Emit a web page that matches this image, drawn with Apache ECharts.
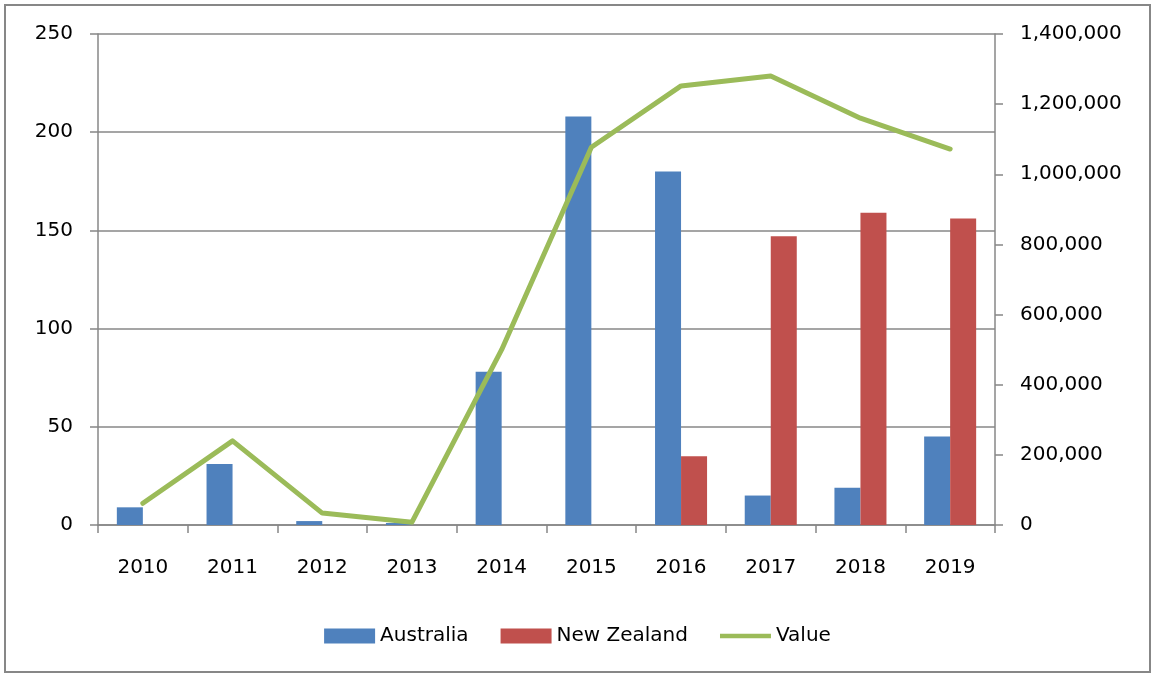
<!DOCTYPE html>
<html>
<head>
<meta charset="utf-8">
<script src="https://cdn.jsdelivr.net/npm/echarts@6/dist/echarts.min.js"></script>
<style>
html,body{margin:0;padding:0;background:#fff;}
#main{width:1155px;height:677px;}
</style>
</head>
<body>
<div id="main"></div>
<script>
// 年份
var years = ['2010', '2011', '2012', '2013', '2014', '2015', '2016', '2017', '2018', '2019'];
// 左轴柱子
var australia = [9, 31, 2, 1, 78, 208, 180, 15, 19, 45];
var newZealand = [0, 0, 0, 0, 0, 0, 35, 147, 159, 156];
// 右轴折线
var values = [62000, 240000, 34000, 8000, 500000, 1077000, 1252000, 1280000, 1160000, 1072000];

var fontName = 'DejaVu Sans';
var gridColor = '#878787';
// 图例里的线条图标（上下加两个极小的点撑开包围盒，线条保持在中间）
var lineIcon = 'path://M0,0 L0.01,0 L0.01,0.01 Z M0,5.3 L51,5.3 L51,9.7 L0,9.7 Z M0,15 L0.01,15 L0.01,15.01 Z';

function fmt(v) {
	return Number(v).toLocaleString('en-US');
}

var myChart = echarts.init(document.getElementById('main'));
var option = {
	animation: false,
	textStyle: {fontFamily: fontName},
	graphic: [
		{
			type: 'rect',
			shape: {x: 5, y: 5, width: 1145, height: 667},
			style: {fill: 'none', stroke: gridColor, lineWidth: 2}
		}
	],
	legend: {
		bottom: 26,
		left: 'center',
		itemWidth: 51,
		itemHeight: 15,
		itemGap: 32,
		textStyle: {fontFamily: fontName, fontSize: 20, color: '#000'},
		data: [
			{name: 'Australia', icon: 'rect'},
			{name: 'New Zealand', icon: 'rect'},
			{name: 'Value', icon: lineIcon}
		]
	},
	grid: {
		left: 98,
		right: 160,
		top: 34,
		bottom: 152
	},
	xAxis: {
		type: 'category',
		data: years,
		boundaryGap: true,
		axisLine: {lineStyle: {color: gridColor, width: 1.5}},
		axisTick: {show: true, length: 8, lineStyle: {color: gridColor, width: 1.5}},
		axisLabel: {color: '#000', fontSize: 20, margin: 33, fontFamily: fontName}
	},
	yAxis: [
		{
			type: 'value',
			min: 0,
			max: 250,
			interval: 50,
			axisLine: {show: true, lineStyle: {color: gridColor, width: 1.5}},
			axisTick: {show: true, length: 8, lineStyle: {color: gridColor, width: 1.5}},
			splitLine: {show: true, lineStyle: {color: gridColor, width: 1.5}},
			axisLabel: {color: '#000', fontSize: 20, margin: 25, fontFamily: fontName}
		},
		{
			type: 'value',
			min: 0,
			max: 1400000,
			interval: 200000,
			axisLine: {show: true, lineStyle: {color: gridColor, width: 1.5}},
			axisTick: {show: true, length: 8, lineStyle: {color: gridColor, width: 1.5}},
			splitLine: {show: false},
			axisLabel: {color: '#000', fontSize: 20, margin: 25, fontFamily: fontName, formatter: fmt}
		}
	],
	series: [
		{
			name: 'Australia',
			type: 'bar',
			yAxisIndex: 0,
			barGap: '0%',
			barCategoryGap: '42%',
			itemStyle: {color: '#4f81bd'},
			data: australia
		},
		{
			name: 'New Zealand',
			type: 'bar',
			yAxisIndex: 0,
			barGap: '0%',
			barCategoryGap: '42%',
			itemStyle: {color: '#c0504d'},
			data: newZealand
		},
		{
			name: 'Value',
			type: 'line',
			yAxisIndex: 1,
			symbol: 'none',
			z: 5,
			itemStyle: {color: '#9bbb59'},
			lineStyle: {color: '#9bbb59', width: 5, cap: 'round', join: 'round'},
			data: values
		}
	]
};
myChart.setOption(option);
</script>
</body>
</html>
